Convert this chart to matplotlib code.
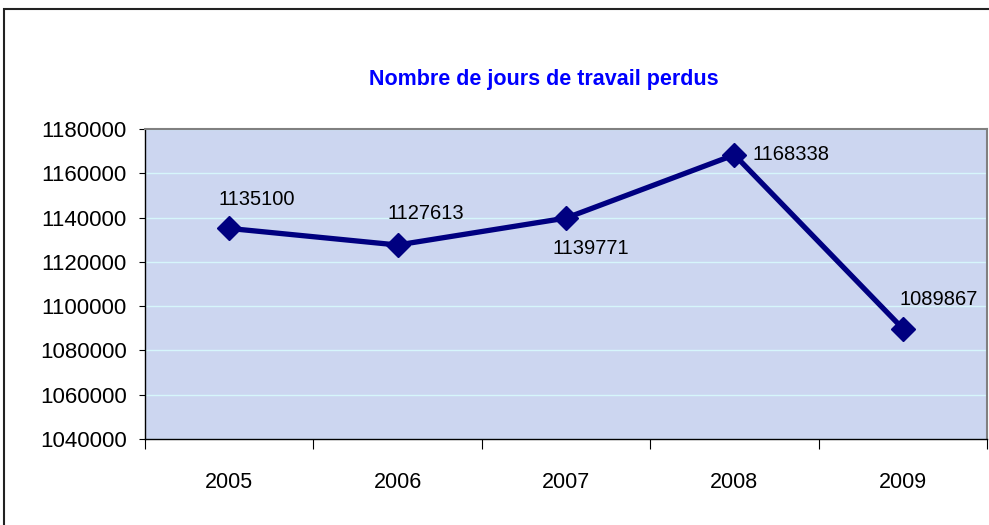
import matplotlib.pyplot as plt
from matplotlib.patches import Rectangle

# donnees
years = ['2005', '2006', '2007', '2008', '2009']
jours = [1135100, 1127613, 1139771, 1168338, 1089867]
# decalage des etiquettes (pixels) : au-dessus, au-dessous, a droite
label_offsets = [(28, 29), (28, 31), (25, -30), (18, 0), (36, 29)]
label_ha = ['center', 'center', 'center', 'left', 'center']

plt.rcParams['font.family'] = ['Liberation Sans', 'DejaVu Sans']

fig = plt.figure(figsize=(9.89, 5.25), dpi=100)
ax = fig.add_axes([145 / 989, 1 - 439 / 525, 842 / 989, 310 / 525])

# cadre du graphique
fig.patches.append(Rectangle((4 / 989, -0.1), 1.2, 1 - 9 / 525 + 0.1,
                             transform=fig.transFigure, fill=False,
                             edgecolor='#222222', linewidth=1.5))

ax.set_facecolor('#ccd6f0')
x = range(len(years))
ax.plot(x, jours, color='#000080', linewidth=3.8, marker='D', markersize=12,
        zorder=3)

for i, v in enumerate(jours):
    ax.annotate(str(v), (i, v), xytext=label_offsets[i], textcoords='offset pixels',
                ha=label_ha[i], va='center', fontsize=14.5)

ax.set_xlim(-0.5, len(years) - 0.5)
ax.set_ylim(1040000, 1180000)
ax.set_yticks(range(1040000, 1180001, 20000))
ax.set_yticklabels([str(v) for v in range(1040000, 1180001, 20000)])
ax.set_xticks(list(x))
ax.set_xticklabels(years)
ax.set_xticks([i - 0.5 for i in range(len(years) + 1)], minor=True)
ax.tick_params(axis='x', which='major', length=0, pad=24, labelsize=15.5)
ax.tick_params(axis='x', which='minor', length=7, width=0.8)
ax.tick_params(axis='y', length=4, width=0.8, pad=9, labelsize=16)

ax.grid(axis='y', color='#d6f6fb', linewidth=1)
ax.set_axisbelow(True)
for side in ['top', 'right']:
    ax.spines[side].set_color('#808080')
    ax.spines[side].set_linewidth(1.5)
for side in ['left', 'bottom']:
    ax.spines[side].set_color('black')
    ax.spines[side].set_linewidth(1)

fig.text(544 / 989, 1 - 80 / 525, 'Nombre de jours de travail perdus',
         ha='center', va='center', color='#0000ff', fontsize=15.5,
         fontweight='bold')

fig.savefig('out.png', dpi=100)
